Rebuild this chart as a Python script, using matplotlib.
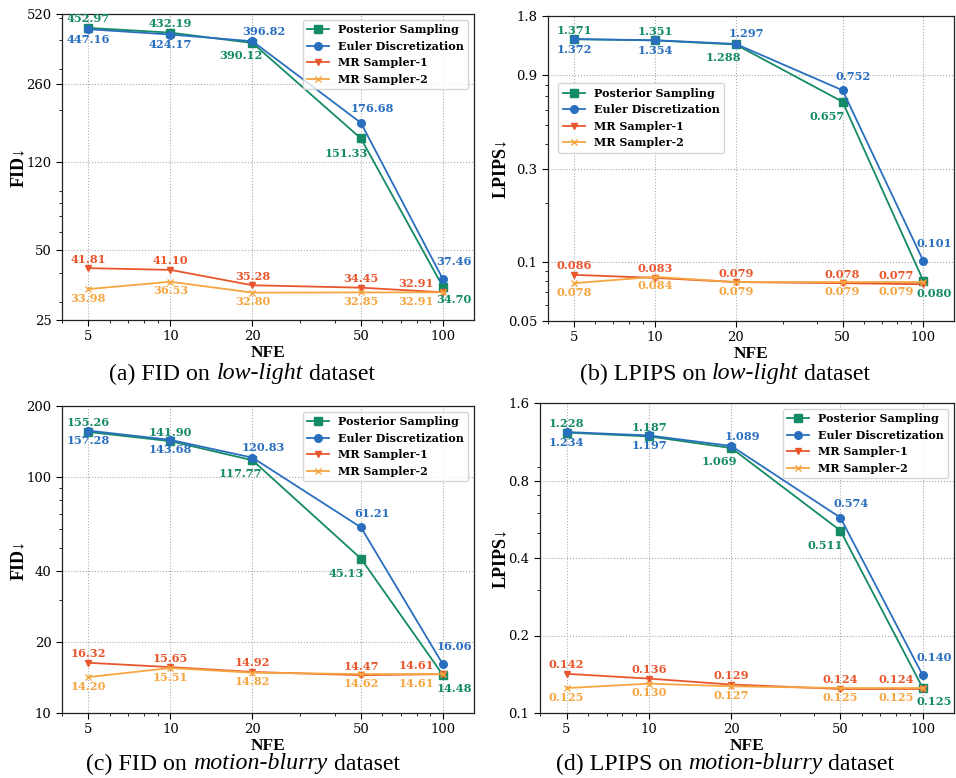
import matplotlib
matplotlib.use("Agg")
import matplotlib.pyplot as plt
from matplotlib.ticker import NullFormatter, LogLocator, FixedLocator, FixedFormatter

plt.rcParams['font.family'] = ['DejaVu Serif']

nfe = [5, 10, 20, 50, 100]
series_names = ["Posterior Sampling", "Euler Discretization", "MR Sampler-1", "MR Sampler-2"]

# (a) FID on low-light
fid_ll_ps = [452.97, 432.19, 390.12, 151.33, 34.70]
fid_ll_euler = [447.16, 424.17, 396.82, 176.68, 37.46]
fid_ll_mr1 = [41.81, 41.10, 35.28, 34.45, 32.91]
fid_ll_mr2 = [33.98, 36.53, 32.80, 32.85, 32.91]
fid_ll_ticks = [25, 50, 120, 260, 520]

# (b) LPIPS on low-light
lp_ll_ps = [1.371, 1.351, 1.288, 0.657, 0.080]
lp_ll_euler = [1.372, 1.354, 1.297, 0.752, 0.101]
lp_ll_mr1 = [0.086, 0.083, 0.079, 0.078, 0.077]
lp_ll_mr2 = [0.078, 0.084, 0.079, 0.079, 0.079]
lp_ll_ticks = [0.05, 0.1, 0.3, 0.9, 1.8]
lp_ll_ticklabels = ["0.05", "0.1", "0.3", "0.9", "1.8"]

# (c) FID on motion-blurry
fid_mb_ps = [155.26, 141.90, 117.77, 45.13, 14.48]
fid_mb_euler = [157.28, 143.68, 120.83, 61.21, 16.06]
fid_mb_mr1 = [16.32, 15.65, 14.92, 14.47, 14.61]
fid_mb_mr2 = [14.20, 15.51, 14.82, 14.62, 14.61]
fid_mb_ticks = [10, 20, 40, 100, 200]

# (d) LPIPS on motion-blurry
lp_mb_ps = [1.228, 1.187, 1.069, 0.511, 0.125]
lp_mb_euler = [1.234, 1.197, 1.089, 0.574, 0.140]
lp_mb_mr1 = [0.142, 0.136, 0.129, 0.124, 0.124]
lp_mb_mr2 = [0.125, 0.130, 0.127, 0.125, 0.125]
lp_mb_ticks = [0.1, 0.2, 0.4, 0.8, 1.6]
lp_mb_ticklabels = ["0.1", "0.2", "0.4", "0.8", "1.6"]

colors = ['#148a66', '#2a6fbf', '#e8562e', '#f5a640']
markers = ['s', 'o', 'v', 'x']

# label offsets in pixels (dx, dy up)
offs = [
    [(0, 9), (0, 9), (-12, -13), (-15, -15), (11, -13)],
    [(0, -10), (0, -10), (11, 10), (11, 14), (11, 18)],
    [(0, 9), (0, 9), (0, 9), (0, 9), (-27, 9)],
    [(0, -9), (0, -9), (0, -9), (0, -9), (-27, -9)],
]

fig = plt.figure(figsize=(9.56, 7.78), dpi=100)
W, H = 956, 778

def ax_rect(l, r, t, b):
    return [l / W, 1 - b / H, (r - l) / W, (b - t) / H]

panels = [
    dict(rect=ax_rect(62, 474, 14, 320), data=[fid_ll_ps, fid_ll_euler, fid_ll_mr1, fid_ll_mr2],
         ticks=fid_ll_ticks, labels=[str(t) for t in fid_ll_ticks], ylabel="FID↓", fmt="{:.2f}",
         cap=("(a) FID on ", "low-light", " dataset"), capx=242, capy=374, ylx=27,
         leg=dict(loc='upper right')),
    dict(rect=ax_rect(548, 954, 16, 321), data=[lp_ll_ps, lp_ll_euler, lp_ll_mr1, lp_ll_mr2],
         ticks=lp_ll_ticks, labels=lp_ll_ticklabels, ylabel="LPIPS↓", fmt="{:.3f}",
         cap=("(b) LPIPS on ", "low-light", " dataset"), capx=725, capy=374, ylx=509,
         leg=dict(loc='upper left', bbox_to_anchor=(0.025, 0.78), borderaxespad=0)),
    dict(rect=ax_rect(62, 474, 406, 713), data=[fid_mb_ps, fid_mb_euler, fid_mb_mr1, fid_mb_mr2],
         ticks=fid_mb_ticks, labels=[str(t) for t in fid_mb_ticks], ylabel="FID↓", fmt="{:.2f}",
         cap=("(c) FID on ", "motion-blurry", " dataset"), capx=243, capy=764, ylx=27,
         leg=dict(loc='upper right')),
    dict(rect=ax_rect(540, 954, 403, 713), data=[lp_mb_ps, lp_mb_euler, lp_mb_mr1, lp_mb_mr2],
         ticks=lp_mb_ticks, labels=lp_mb_ticklabels, ylabel="LPIPS↓", fmt="{:.3f}",
         cap=("(d) LPIPS on ", "motion-blurry", " dataset"), capx=725, capy=764, ylx=509,
         leg=dict(loc='upper right')),
]

for p in panels:
    ax = fig.add_axes(p['rect'])
    for i, ys in enumerate(p['data']):
        ax.plot(nfe, ys, color=colors[i], marker=markers[i], markersize=5.5 if i < 2 else 5,
                linewidth=1.3, label=series_names[i], zorder=3)
        for j, (x, y) in enumerate(zip(nfe, ys)):
            dx, dy = offs[i][j]
            ax.annotate(p['fmt'].format(y), (x, y), xytext=(dx * 0.72, dy * 0.72),
                        textcoords='offset points', ha='center', va='center',
                        fontsize=8.2, fontweight='bold', color=colors[i], zorder=4)
    ax.set_xscale('log')
    ax.set_yscale('log')
    ax.set_xlim(4.0, 130)
    ax.set_ylim(p['ticks'][0], p['ticks'][-1])
    ax.xaxis.set_major_locator(FixedLocator(nfe))
    ax.xaxis.set_major_formatter(FixedFormatter([str(n) for n in nfe]))
    ax.xaxis.set_minor_formatter(NullFormatter())
    ax.yaxis.set_major_locator(FixedLocator(p['ticks']))
    ax.yaxis.set_major_formatter(FixedFormatter(p['labels']))
    ax.yaxis.set_minor_locator(LogLocator(subs=[2, 3, 4, 5, 6, 7, 8, 9]))
    ax.yaxis.set_minor_formatter(NullFormatter())
    ax.tick_params(axis='both', which='major', labelsize=9.5, length=4, width=0.8)
    ax.tick_params(axis='both', which='minor', length=2, width=0.6)
    ax.grid(True, which='major', linestyle=':', color='#aaaaaa', linewidth=0.8)
    for s in ax.spines.values():
        s.set_linewidth(0.9)
        s.set_color('#222222')
    ax.set_xlabel("NFE", fontsize=12.5, fontweight='bold', family=['Liberation Serif', 'DejaVu Serif'],
                  labelpad=1)
    ax.set_ylabel(p['ylabel'], fontsize=13, fontweight='bold', family=['Liberation Serif', 'DejaVu Serif'])
    ax.yaxis.set_label_coords((p['ylx'] - p['rect'][0] * W) / (p['rect'][2] * W), 0.5)
    leg = ax.legend(prop=dict(size=8, weight='bold'), **p['leg'])
    # caption
    a, b, c = p['cap']
    fs = 17.2
    fam = 'Liberation Serif'
    t1 = fig.text(0, 0, a, fontsize=fs, family=fam)
    t2 = fig.text(0, 0, b, fontsize=fs, family=fam, style='italic')
    t3 = fig.text(0, 0, c, fontsize=fs, family=fam)
    fig.canvas.draw()
    r = fig.canvas.get_renderer()
    w1 = t1.get_window_extent(r).width
    w2 = t2.get_window_extent(r).width
    w3 = t3.get_window_extent(r).width
    total = w1 + w2 + w3
    x0 = p['capx'] - total / 2
    yy = 1 - p['capy'] / H
    t1.set_position((x0 / W, yy)); t1.set_va('center')
    t2.set_position(((x0 + w1) / W, yy)); t2.set_va('center')
    t3.set_position(((x0 + w1 + w2) / W, yy)); t3.set_va('center')

fig.savefig("out.png", dpi=100)
